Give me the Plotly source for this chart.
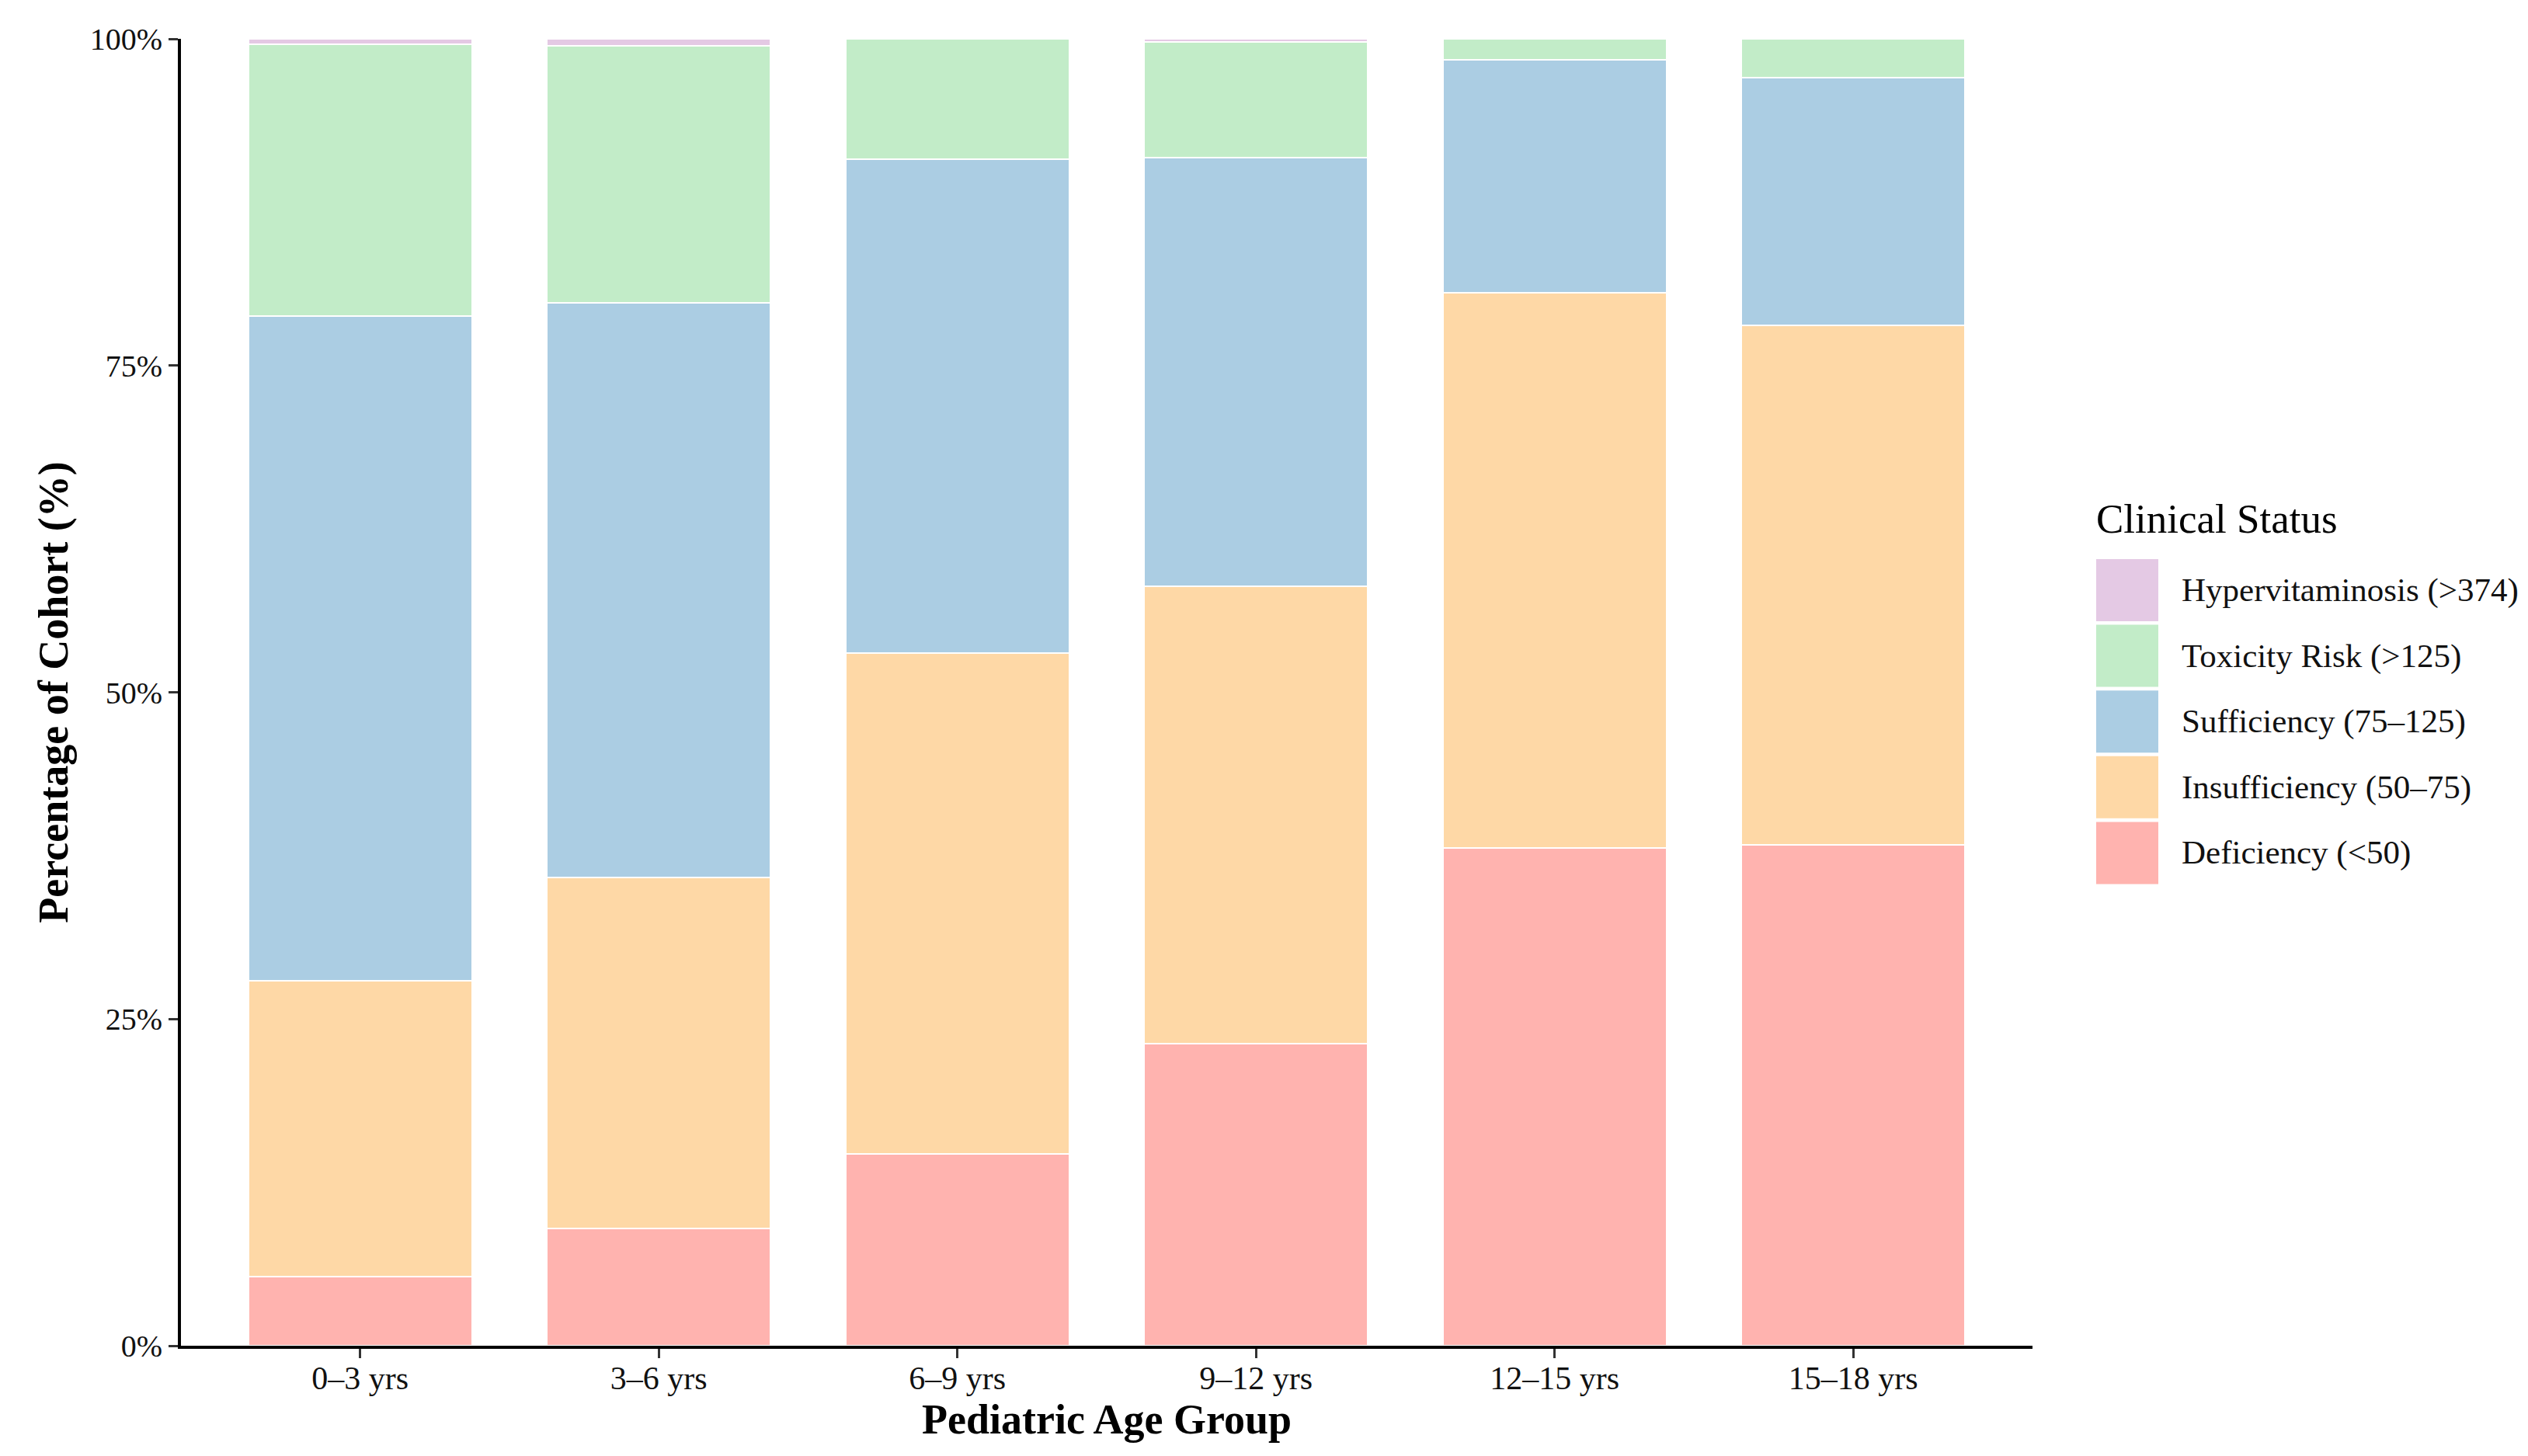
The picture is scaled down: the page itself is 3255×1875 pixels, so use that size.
import plotly.graph_objects as go

# ---------------- data ----------------
age_groups = ["0–3 yrs", "3–6 yrs", "6–9 yrs", "9–12 yrs", "12–15 yrs", "15–18 yrs"]
deficiency = [5.3, 9.0, 14.7, 23.1, 38.1, 38.3]
insufficiency = [22.6, 26.8, 38.3, 35.0, 42.5, 39.8]
sufficiency = [50.9, 44.0, 37.8, 32.8, 17.8, 18.9]
toxicity = [20.8, 19.65, 9.2, 8.85, 1.6, 3.0]
hypervitaminosis = [0.4, 0.55, 0.0, 0.25, 0.0, 0.0]

status_labels = ["Deficiency (<50)", "Insufficiency (50–75)", "Sufficiency (75–125)",
                 "Toxicity Risk (>125)", "Hypervitaminosis (>374)"]
status_colors = ["#FFB3AF", "#FED8A6", "#ABCDE3", "#C2ECC8", "#E4C9E4"]
series = [deficiency, insufficiency, sufficiency, toxicity, hypervitaminosis]

y_ticks = [0, 25, 50, 75, 100]
y_ticktext = ["0%", "25%", "50%", "75%", "100%"]

# ---------------- layout constants ----------------
W, H = 3255, 1875
L, R, T, B = 233, 2617, 50, 1733  # plot area in pixels
FONT = "Liberation Serif"

fig = go.Figure()
x_idx = list(range(len(age_groups)))
for vals, name, col in zip(series, status_labels, status_colors):
    fig.add_trace(go.Bar(
        x=x_idx, y=vals, name=name,
        marker=dict(color=col, line=dict(color="white", width=2)),
        showlegend=False,
    ))

fig.update_layout(
    width=W, height=H,
    barmode="stack", bargap=0.25,
    plot_bgcolor="white", paper_bgcolor="white",
    margin=dict(l=L, r=W - R, t=T, b=H - B, autoexpand=False),
    font=dict(family=FONT, color="#111111"),
)

fig.update_xaxes(
    range=[-0.6, len(age_groups) - 0.4],
    tickvals=x_idx, ticktext=age_groups,
    showline=True, linecolor="black", linewidth=4,
    ticks="outside", ticklen=12, tickwidth=3, tickcolor="#333333",
    ticklabelstandoff=-10,
    showgrid=False, zeroline=False,
    tickfont=dict(family=FONT, size=42, color="#111111"),
    title=dict(text="<b>Pediatric Age Group</b>", font=dict(family=FONT, size=54, color="black"),
               standoff=8),
)
fig.update_yaxes(
    range=[0, 100],
    tickvals=y_ticks, ticktext=y_ticktext,
    showline=True, linecolor="black", linewidth=4,
    ticks="outside", ticklen=12, tickwidth=3, tickcolor="#333333",
    showgrid=False, zeroline=False,
    tickfont=dict(family=FONT, size=40, color="#111111"),
    title=dict(text="<b>Percentage of Cohort (%)</b>", font=dict(family=FONT, size=54, color="black"),
               standoff=12),
)

# ---------------- custom legend ----------------
def px_x(px):
    return (px - L) / (R - L)

def px_y(py):
    return (B - py) / (B - T)

fig.add_annotation(
    x=px_x(2697), y=px_y(668), xref="paper", yref="paper",
    text="Clinical Status", showarrow=False, xanchor="left", yanchor="middle",
    font=dict(family=FONT, size=53, color="black"),
)
sw_left, sw_right = 2699, 2779
sw_top0, pitch, sw_h = 720, 84.6, 80
legend_order = list(range(len(status_labels)))[::-1]
for row, k in enumerate(legend_order):
    top = sw_top0 + row * pitch
    fig.add_shape(
        type="rect", xref="paper", yref="paper",
        x0=px_x(sw_left), x1=px_x(sw_right), y0=px_y(top + sw_h), y1=px_y(top),
        fillcolor=status_colors[k], line=dict(width=0),
    )
    fig.add_annotation(
        x=px_x(2807), y=px_y(top + sw_h / 2), xref="paper", yref="paper",
        text=status_labels[k], showarrow=False, xanchor="left", yanchor="middle",
        font=dict(family=FONT, size=43, color="#111111"),
    )

fig.write_html("out.html")
